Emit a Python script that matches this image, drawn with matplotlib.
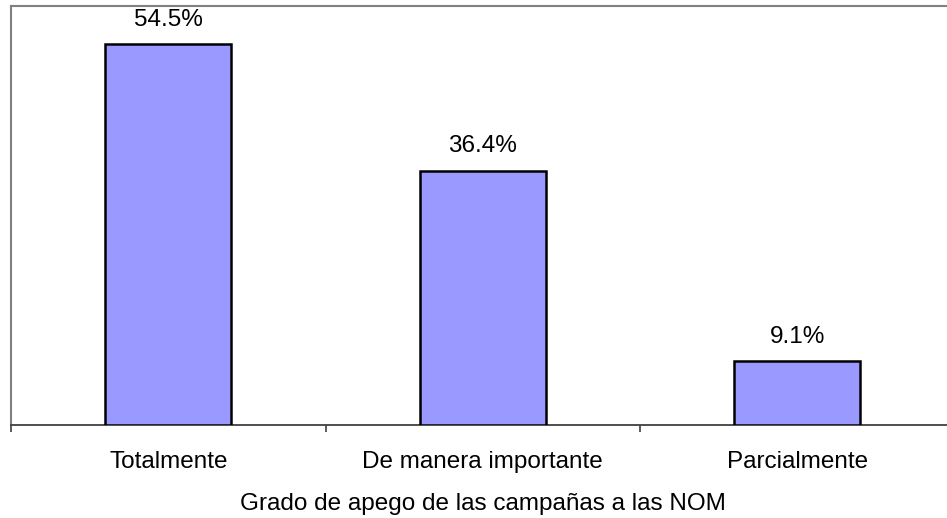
import matplotlib
matplotlib.use("Agg")
import matplotlib.pyplot as plt
import numpy as np

categories = ["Totalmente", "De manera importante", "Parcialmente"]
values = [54.5, 36.4, 9.1]
labels = ["54.5%", "36.4%", "9.1%"]
xlabel = "Grado de apego de las campañas a las NOM"

plt.rcParams['font.family'] = ['Liberation Sans', 'DejaVu Sans']

W, H = 947, 518
fig = plt.figure(figsize=(W / 100, H / 100), dpi=100)
left, right, top, bottom = 11, 954.5, 6, 425
ax = fig.add_axes([left / W, 1 - bottom / H, (right - left) / W, (bottom - top) / H])

x = np.arange(len(categories))
ax.bar(x, values, width=0.4, color="#9999FF", edgecolor="black", linewidth=1.8, zorder=3)
ax.set_xlim(-0.5, len(categories) - 0.5)
ax.set_ylim(0, 60)

for xi, v, lab in zip(x, values, labels):
    ax.annotate(lab, (xi, v), xytext=(0, 13.5), textcoords="offset points",
                ha="center", va="baseline", fontsize=17.5, color="black")

ax.set_xticks(x)
ax.set_xticklabels(categories, fontsize=17.5)
ax.tick_params(axis="x", which="major", length=0, pad=19)
ax.set_xticks(np.arange(len(categories) + 1) - 0.5, minor=True)
ax.tick_params(axis="x", which="minor", length=5, width=1.2, color="#404040", direction="out")
ax.set_yticks([])

ax.set_xlabel(xlabel, fontsize=17.5, labelpad=14)

for side in ["left", "top", "right"]:
    ax.spines[side].set_color("#808080")
    ax.spines[side].set_linewidth(1.5)
ax.spines["bottom"].set_color("#404040")
ax.spines["bottom"].set_linewidth(1.3)

fig.savefig("out.png", dpi=100)
